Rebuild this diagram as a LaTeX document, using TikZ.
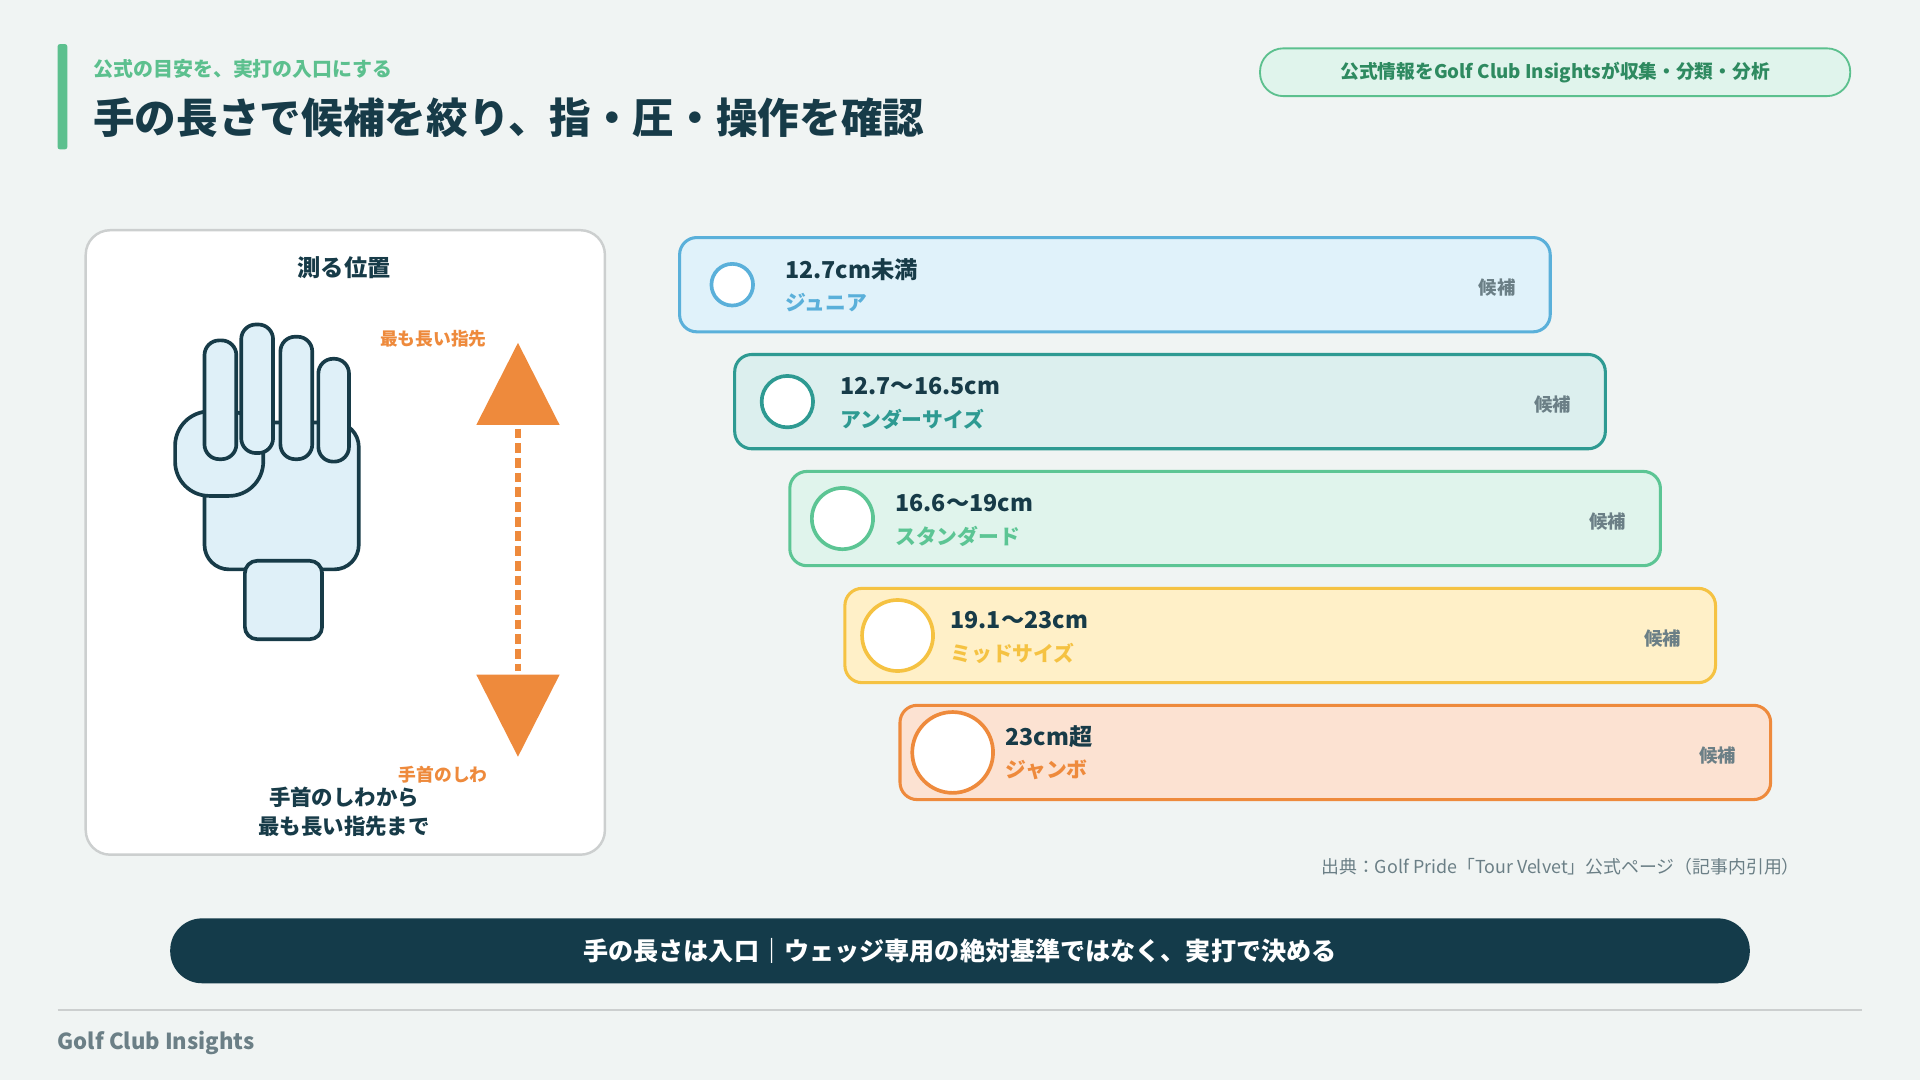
\documentclass[tikz,border=0pt]{standalone}
\usepackage{fontspec}
\setmainfont{Noto Sans CJK JP}
\definecolor{bgc}{HTML}{F0F4F3}
\definecolor{ink}{HTML}{173B48}
\definecolor{gmain}{HTML}{5CC08E}
\definecolor{gdark}{HTML}{2E8A60}
\definecolor{grayt}{HTML}{6B7F86}
\definecolor{orng}{HTML}{EE8A3C}
\definecolor{handf}{HTML}{DFF0F8}
\definecolor{bandc}{HTML}{143B4A}
\definecolor{f1}{HTML}{E0F2FA}\definecolor{d1}{HTML}{5AB0DA}
\definecolor{f2}{HTML}{DCEFEE}\definecolor{d2}{HTML}{2E9A92}
\definecolor{f3}{HTML}{E0F4EC}\definecolor{d3}{HTML}{5CC594}
\definecolor{f4}{HTML}{FFF0C8}\definecolor{d4}{HTML}{F5C242}
\definecolor{f5}{HTML}{FCE2D2}\definecolor{d5}{HTML}{EE8A3C}
\newcommand{\fs}[1]{\fontsize{#1}{#1}\selectfont}
\begin{document}
\begin{tikzpicture}[x=1pt,y=-1pt,line join=round]
    \tikzstyle{finger}=[draw=ink,fill=handf,line width=3pt,rounded corners=12pt]
    \tikzstyle{row}=[line width=2.5pt,rounded corners=14pt]
    \tikzstyle{cand}=[text=grayt,font=\fs{15}\bfseries,anchor=east,inner sep=0pt]
    \tikzstyle{lbl}=[anchor=west,inner sep=0pt]

    % background and header
    \fill[bgc] (0,0) rectangle (1568,882);
    \useasboundingbox (0,0) rectangle (1568,882);
    \fill[gmain,rounded corners=2pt] (47,36) rectangle (55,122);
    \node[lbl,text=gmain,font=\fs{16.3}\bfseries] (sub) at (76,56) {公式の目安を、実打の入口にする};
    \node[lbl,text=ink,font=\fs{34}\bfseries] (title) at (76,96) {手の長さで候補を絞り、指・圧・操作を確認};
    \node[draw=gmain,fill=f3,line width=1.5pt,rounded corners=19pt,minimum width=482pt,minimum height=39pt,
          text=gdark,font=\fs{15.3}\bfseries] (tag) at (1270,59) {公式情報をGolf Club Insightsが収集・分類・分析};

    % measuring card
    \draw[fill=white,draw=black!15!bgc,line width=2pt,rounded corners=20pt] (70,188) rectangle (494,698);
    \node[text=ink,font=\fs{19}\bfseries] (card) at (281,219) {測る位置};
    \draw[finger,rounded corners=20pt] (167,345) rectangle (293,465);
    \draw[finger,rounded corners=28pt] (143,336) rectangle (215,405);
    \draw[finger] (167,278) rectangle (193,375);
    \draw[finger] (197,265) rectangle (223,370);
    \draw[finger] (229,275) rectangle (255,375);
    \draw[finger] (260,293) rectangle (285,377);
    \draw[finger,rounded corners=10pt] (200,458) rectangle (263,522);
    \fill[orng] (423,280) -- (457,347) -- (389,347) -- cycle;
    \fill[orng] (423,618) -- (457,551) -- (389,551) -- cycle;
    \draw[orng,line width=5pt,dash pattern=on 8pt off 4pt] (423,350) -- (423,548);
    \node[text=orng,font=\fs{14.5}\bfseries] (tip) at (354,277) {最も長い指先};
    \node[text=orng,font=\fs{14.5}\bfseries] (wrist) at (362,633) {手首のしわ};
    \node[text=ink,font=\fs{17.5}\bfseries,align=center] (how) at (281,663) {手首のしわから\\[6pt]最も長い指先まで};

    % size rows
    \foreach \i/\r/\a/\b in {1/17/12.7cm未満/ジュニア,2/21/12.7〜16.5cm/アンダーサイズ,
        3/25/16.6〜19cm/スタンダード,4/29/19.1〜23cm/ミッドサイズ,5/33/23cm超/ジャンボ}{
      \pgfmathsetmacro{\xl}{555+45*(\i-1)}
      \pgfmathsetmacro{\yt}{194+95.5*(\i-1)}
      \draw[row,fill=f\i,draw=d\i] (\xl,\yt) rectangle ++(711,77);
      \draw[fill=white,draw=d\i,line width=3pt] (\xl+43,\yt+38.5) circle (\r);
      \node[lbl,text=ink,font=\fs{19}\bfseries] (size-\i) at (\xl+86,\yt+26) {\a};
      \node[lbl,text=d\i,font=\fs{17}\bfseries] (name-\i) at (\xl+86,\yt+53) {\b};
      \node[cand] (cand-\i) at (\xl+683,\yt+41) {候補};
    }
    \node[anchor=east,inner sep=0pt,text=grayt,font=\fs{14.6}] (src) at (1470,708) {出典：Golf Pride「Tour Velvet」公式ページ（記事内引用）};

    % footer
    \node[fill=bandc,rounded corners=26pt,minimum width=1290pt,minimum height=53pt,text=white,
          font=\fs{20.5}\bfseries] (band) at (784,776.5) {手の長さは入口｜ウェッジ専用の絶対基準ではなく、実打で決める};
    \draw[black!15!bgc,line width=1.5pt] (47,825) -- (1521,825);
    \node[lbl,text=grayt,font=\fs{18}\bfseries] (brand) at (47,852) {Golf Club Insights};
\end{tikzpicture}
\end{document}
